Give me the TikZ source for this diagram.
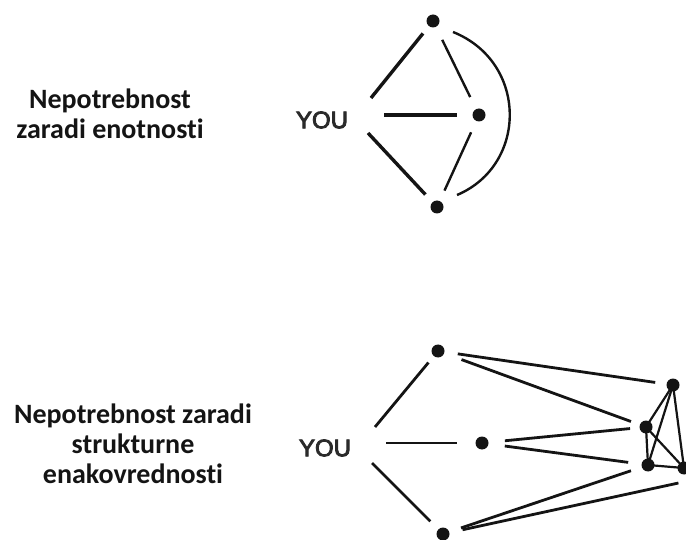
\documentclass[tikz,border=0pt]{standalone}
\usepackage{fontspec}
\setmainfont{Carlito}[Ligatures=NoCommon]
\newfontfamily\yousans{Liberation Sans}
% set text with fill plus a thin outline so the letters come out heavier
\newcommand{\heavytext}[1]{\special{pdf:literal direct 2 Tr 0.9 w}#1\special{pdf:literal direct 0 Tr}}
\definecolor{ink}{HTML}{141414}
\definecolor{yougray}{HTML}{2a2a2a}
\begin{document}
\begin{tikzpicture}[x=1pt,y=-1pt,
  dot/.style={circle,fill=ink,inner sep=0pt,minimum size=13pt},
  youlabel/.style={font=\yousans\fontsize{24}{24}\selectfont,text=yougray,inner sep=0pt},
  caption/.style={font=\bfseries\fontsize{28}{30}\selectfont,align=center,text=ink,inner sep=0pt,anchor=base},
  tie/.style={draw=ink,line width=3.4pt},
  weak/.style={draw=ink,line width=2.4pt},
  link/.style={draw=ink,line width=2.8pt},
  clique/.style={draw=ink,line width=2.2pt}]
\useasboundingbox (0,0) rectangle (686,540);

% upper figure: redundancy through cohesion
\node[caption] (cap1) at (110,139) {Nepotrebnost\\zaradi enotnosti};
\node[youlabel] (you1) at (322,120) {\heavytext{YOU}};
\node[dot] (t1) at (433,21) {};
\node[dot] (t2) at (479,115) {};
\node[dot] (t3) at (437,207) {};
\draw[tie,shorten >=16pt] ([shift={(49,-22)}]you1.center) -- (t1.center);
\draw[tie,shorten >=22pt] ([shift={(62,-5)}]you1.center) -- (t2.center);
\draw[tie,shorten >=17pt] ([shift={(46,13)}]you1.center) -- (t3.center);
\draw[weak,shorten <=21pt,shorten >=20pt] (t1.center) -- (t2.center);
\draw[weak,shorten <=19pt,shorten >=18pt] (t2.center) -- (t3.center);
\draw[weak] ([shift={(20,11)}]t1.center)
  .. controls ([shift={(95,41)}]t1.center) and ([shift={(91,-42)}]t3.center)
  .. ([shift={(20,-12)}]t3.center);

% lower figure: redundancy through structural equivalence
\node[caption] (cap2) at (133,483) {Nepotrebnost zaradi\\strukturne\\enakovrednosti};
\node[youlabel] (you2) at (325,448) {\heavytext{YOU}};
\node[dot] (b1) at (438,351) {};
\node[dot] (b2) at (482,443) {};
\node[dot] (b3) at (443,534) {};
\node[dot] (r1) at (673,385) {};
\node[dot] (r2) at (646,427) {};
\node[dot] (r3) at (648,465) {};
\node[dot] (r4) at (684,468) {};
\coordinate (rx) at (697,479);

\draw[link,shorten >=15pt] ([shift={(50,-21)}]you2.center) -- (b1.center);
\draw[link,shorten >=25pt] ([shift={(61,-5)}]you2.center) -- (b2.center);
\draw[link,shorten >=18pt] ([shift={(47,15)}]you2.center) -- (b3.center);

\draw[link,shorten <=20pt,shorten >=18pt] (b1.center) -- (r1.center);
\draw[link,shorten <=25pt,shorten >=16pt] (b1.center) -- (r2.center);
\draw[link,shorten <=23pt,shorten >=16pt] (b2.center) -- (r2.center);
\draw[link,shorten <=23pt,shorten >=20pt] (b2.center) -- (r3.center);
\draw[link,shorten <=19pt,shorten >=18pt] (b3.center) -- (r3.center);
\draw[link,shorten <=20pt,shorten >=19pt] (b3.center) -- (rx);

\draw[clique] (r1.center) -- (r2.center);
\draw[clique] (r1.center) -- (r3.center);
\draw[clique] (r1.center) -- (r4.center);
\draw[clique] (r2.center) -- (r3.center);
\draw[clique] (r2.center) -- (r4.center);
\draw[clique] (r3.center) -- (r4.center);
\end{tikzpicture}
\end{document}
